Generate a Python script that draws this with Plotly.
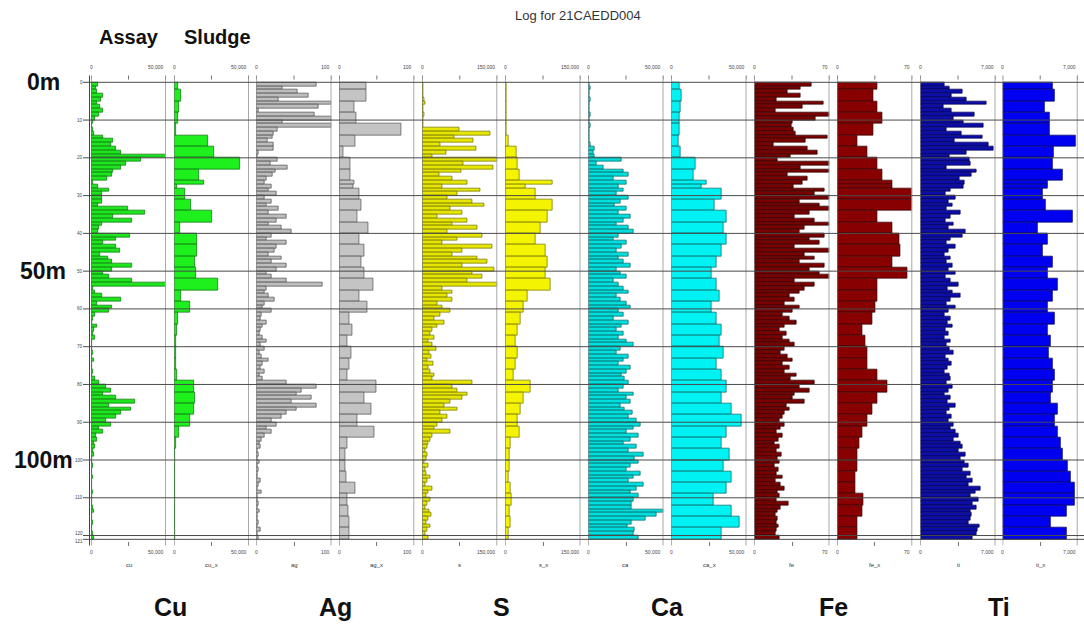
import plotly.graph_objects as go

# ---------------- data ----------------
elements = ["cu", "ag", "s", "ca", "fe", "ti"]
big_labels = ["Cu", "Ag", "S", "Ca", "Fe", "Ti"]
scale_max = [50000, 100, 150000, 50000, 70, 7000]
scale_text = ["50,000", "100", "150,000", "50,000", "70", "7,000"]

# assay samples: 1 m intervals from 0 m to 121 m
assay_from = list(range(121))

cu = [4700, 3300, 4000, 8000, 6700, 4000, 6000, 8000, 5300, 2700,
      1300, 700, 1300, 2000, 8000, 14700, 13300, 16700, 20000, 50000,
      33300, 23300, 20000, 14700, 14000, 10700, 1300, 4700, 12000, 7300,
      7300, 7300, 4700, 24700, 36000, 14700, 27300, 7300, 5300, 4700,
      26000, 16700, 8000, 16700, 19300, 6000, 11300, 14000, 27300, 14000,
      8000, 12000, 27300, 50000, 1300, 2700, 7300, 20000, 4000, 14000,
      12000, 2700, 1300, 700, 4000, 2000, 1300, 2700, 700, 700,
      700, 1300, 700, 2000, 700, 700, 1300, 700, 2700, 5300,
      10000, 13300, 8000, 16700, 29300, 12000, 26700, 20000, 16700, 10000,
      13300, 5300, 8000, 3300, 4000, 2000, 2700, 1300, 2000, 700,
      700, 1300, 700, 700, 1300, 700, 700, 700, 1300, 700,
      700, 700, 1300, 2000, 700, 700, 1300, 700, 700, 1300, 2000]

ag = [80, 35, 55, 69, 29, 100, 83, 3, 77, 100, 35, 100, 28, 23, 21, 15, 23, 23, 3, 1.3, 28, 19, 41, 25, 21,
      13, 11, 20, 16, 27, 11, 20, 13, 29, 16, 40,
      27, 16, 33, 47, 20, 13, 40, 27, 24, 16,
      33, 20, 40, 27, 13, 20, 40, 88, 13, 11,
      16, 24, 11, 8, 20, 7, 5, 13, 8, 5,
      4, 8, 13, 5, 11, 4, 7, 16, 8, 5, 11, 4, 8,
      40, 80, 60, 53, 73, 47, 80, 53, 40, 33, 20, 27,
      13, 20, 11, 7, 4, 5,
      1.3, 2.7, 1.3, 4, 1.3, 2.7, 1.3, 1.3, 5, 2.7, 1.3, 7, 1.3, 1.3, 2.7, 1.3, 4, 1.3, 1.3, 2.7, 1.3, 5, 1.3, 2.7]

s = [2000, 2000, 2000, 2000, 4000, 6000, 2000, 2000, 4000, 2000, 2000, 2000,
     74000, 136000, 64000, 102000, 36000, 108000, 48000, 20000, 150000, 82000, 142000, 78000, 34000,
     60000, 90000, 40000, 116000, 70000, 50000, 100000, 124000, 56000, 80000, 30000,
     90000, 60000, 110000, 50000, 120000, 70000, 40000, 140000, 80000, 60000,
     110000, 130000, 80000, 144000, 100000, 120000, 90000, 150000, 40000, 60000,
     50000, 60000, 30000, 40000, 56000, 36000, 24000, 44000, 30000, 20000,
     16000, 24000, 12000, 20000, 28000, 14000, 18000, 10000, 22000, 12000, 16000, 24000, 20000,
     100000, 60000, 70000, 90000, 80000, 56000, 44000, 70000, 36000, 50000, 40000, 30000,
     24000, 56000, 20000, 16000, 12000, 10000,
     6000, 10000, 8000, 4000, 12000, 6000, 8000, 16000, 10000, 6000, 20000, 12000,
     8000, 16000, 10000, 6000, 14000, 18000, 12000, 8000, 16000, 10000, 6000, 12000]

ca = [700, 1300, 700, 700, 1300, 700, 700, 700, 1300, 700, 700, 1300, 700, 700, 700, 700, 1300,
      4000, 3300, 4000,
      22000, 5300, 10000, 23300, 26700,
      16700, 25300, 20000, 23300, 18700, 26700, 21300, 17300, 25300, 20000, 28000,
      23300, 18700, 26700, 30000, 20000, 16700, 25300, 22000, 18700, 26700,
      20000, 23300, 28000, 18700, 21300, 25300, 16700, 20000, 23300, 26700,
      18700, 21300, 25300, 28000, 20000, 23300, 16700, 26700, 22000, 18700,
      23300, 20000, 25300, 30000, 21300, 18700, 26700, 23300, 20000, 28000, 25300, 22000, 24000,
      26700, 23300, 20000, 30000, 25300, 28000, 21300, 24000, 29300, 26700, 32000, 34700,
      30000, 25300, 33300, 28000, 23300, 32000, 26700, 36700, 30700,
      33300, 28000, 25300, 34700, 30000, 26700, 36700, 32000, 28000, 33300, 30000,
      28700, 28700, 50000, 45300, 38000, 28700, 26000, 30700, 30000, 33300]

fe = [53.2, 42.9, 30.8, 42.9, 20.5, 64.4, 44.8, 19.6, 70, 56.9, 35.5, 34.5, 36.4, 38.3, 68.1, 47.6, 17.7, 49.5, 58.8, 33.6, 21.5, 70, 42.9, 70, 30.8,
      49.5, 44.8, 36.4, 65.3, 56, 70, 42, 60.7, 70, 51.3, 37.3,
      56, 70, 46.7, 42, 65.3, 51.3, 60.7, 37.3, 70, 46.7,
      56, 42, 65.3, 51.3, 60.7, 70, 37.3, 56, 46.7, 42,
      32.7, 37.3, 28, 42, 35.5, 26.1, 32.7, 39.2, 28, 23.3,
      29.9, 26.1, 32.7, 37.3, 28, 24.3, 30.8, 35.5, 26.1, 32.7, 28, 39.2, 33.6,
      56, 42, 51.3, 37.3, 35.5, 46.7, 29.9, 32.7, 28, 26.1, 23.3, 28,
      24.3, 20.5, 26.1, 22.4, 18.7, 23.3, 20.5, 25.2, 21.5,
      23.3, 18.7, 22.4, 20.5, 26.1, 19.6, 24.3, 28, 21.5, 23.3, 20.5,
      31.7, 24.3, 21.5, 19.6, 21.5, 20.5, 22.4, 20.5, 19.6, 23.3]

ti = [2240, 2710, 3920, 2890, 4290, 6160, 2150, 2890, 5040, 3080, 4010, 5880, 2430, 3830, 5790, 3170, 6350, 6810, 4290, 2710, 4570, 4670, 2430, 5230, 4760,
      3640, 4110, 4010, 2800, 2330, 3270, 2610, 2990, 2430, 3730, 2800,
      2330, 3080, 2610, 4200, 3920, 2800, 2430, 3270, 2610, 2240,
      2800, 2430, 2990, 2610, 3270, 2330, 2800, 3550, 2520, 2990,
      3730, 2800, 2430, 3270, 2610, 2240, 2800, 2520, 2990, 2330,
      2610, 2240, 2800, 2430, 2710, 3080, 2330, 2610, 2890, 2520, 2240, 2710, 2800,
      2430, 2990, 2610, 2240, 2800, 2520, 3270, 2710, 2430, 2890, 2610, 3080,
      2800, 3270, 3550, 3080, 3730, 3920, 3550, 4200, 3730,
      4110, 4480, 3920, 4670, 4290, 4850, 4480, 5600, 5130, 4670, 5410,
      4850, 5230, 4670, 4760, 4670, 4480, 5510, 5320, 5230, 4850]

# sludge samples (mostly 3 m runs)
sludge_from = [0, 2, 5, 8, 11, 14, 17, 20, 23, 26, 27, 28, 31, 34, 37, 40, 43, 46, 49, 52, 55,
               58, 61, 64, 67, 70, 73, 76, 79, 82, 85, 88, 91, 94, 97, 100, 103, 106, 109, 112, 115, 118]
sludge_to = [2, 5, 8, 11, 14, 17, 20, 23, 26, 27, 28, 31, 34, 37, 40, 43, 46, 49, 52, 55, 58,
             61, 64, 67, 70, 73, 76, 79, 82, 85, 88, 91, 94, 97, 100, 103, 106, 109, 112, 115, 118, 121]

cu_x = [2700, 4700, 3300, 2700, 1300, 22700, 26700, 44000, 16700, 20000, 2000, 7300, 11300, 25300,
        4000, 15300, 15300, 14000, 14700, 29300, 4700, 10700, 2700, 2000, 1300, 1300, 1300, 2000,
        13300, 14000, 13300, 10700, 3300, 1300, 700, 700, 700, 700, 700, 700, 700, 700]
ag_x = [36, 36, 20, 23, 83, 21, 5, 15, 15, 20, 19, 27, 29, 24, 39, 27, 33, 29, 33, 45, 27,
        37, 13, 17, 11, 16, 13, 11, 49, 33, 43, 24, 47, 11, 8, 8, 9, 21, 11, 12, 13, 13]
s_x = [2000, 2000, 2000, 2000, 2000, 6000, 22000, 24000, 28000, 94000, 40000, 60000, 94000, 84000,
       70000, 60000, 80000, 84000, 80000, 90000, 44000, 36000, 30000, 24000, 20000, 24000, 20000, 16000,
       50000, 36000, 30000, 24000, 28000, 10000, 8000, 8000, 6000, 10000, 12000, 8000, 10000, 6000]
ca_x = [5300, 6700, 6000, 5300, 5300, 4700, 6000, 16000, 14700, 23300, 20000, 33300, 28700, 36700,
        34700, 36700, 33300, 30000, 26700, 30000, 32000, 26700, 30000, 33300, 32000, 34700, 30000, 33300,
        36700, 33300, 40000, 46700, 36700, 33300, 38700, 34700, 40000, 36700, 28000, 40000, 45300, 33300]
fe_x = [37.3, 33.6, 37.3, 42, 33.6, 18.7, 28, 37.3, 42, 51.3, 51.3, 70, 70, 37.3, 51.3, 57.9, 58.8,
        51.3, 65.3, 37.3, 37.3, 35.5, 32.7, 23.3, 26.1, 28, 28, 37.3, 46.7, 37.3, 32.7, 28, 23.3,
        20.5, 18.7, 18.7, 16.8, 16.8, 24.3, 23.3, 18.7, 18.7]
ti_x = [4670, 4850, 3920, 4390, 4390, 6810, 4760, 4670, 5600, 4200, 4200, 3730, 4010, 6530, 3270,
        4200, 3730, 4670, 4200, 5130, 4670, 4200, 4850, 4200, 4480, 4290, 4670, 4850, 4670, 4480,
        5130, 4850, 5130, 5410, 5600, 6070, 6350, 6720, 6720, 5970, 4480, 5970]

depth_ticks = [0, 10, 20, 30, 40, 50, 60, 70, 80, 90, 100, 110, 120, 121]
depth_big = ["0m", "50m", "100m"]
depth_big_at = [0, 50, 100]

assay_series = [cu, ag, s, ca, fe, ti]
sludge_series = [cu_x, ag_x, s_x, ca_x, fe_x, ti_x]
for a in assay_series:
    assert len(a) == len(assay_from), len(a)
for sl in sludge_series:
    assert len(sl) == len(sludge_from), len(sl)

# ---------------- styling ----------------
W, H = 1084, 624
FONT = "Liberation Sans"
assay_fill = ["#1ee61e", "#bdbdbd", "#e6e600", "#00dede", "#7a0000", "#0c0ca8"]
assay_line = ["#0b6e0b", "#4a4a4a", "#6e6e00", "#006060", "#2a0000", "#00004a"]
sludge_fill = ["#1ef01e", "#c4c4c4", "#f4f400", "#00f2f2", "#880000", "#0000f0"]
sludge_line = ["#0a6a0a", "#505050", "#6e6e00", "#006060", "#300000", "#00005a"]

panel_w = 75.0
panel_x0 = [91, 174, 256.5, 339.3, 422.3, 505.5, 588.5, 671.5, 754.5, 837.3, 920.5, 1002.7]
top_px, bot_px = 75.5, 545.5
y0_px, px_per_m = 82.3, 3.777


def py(p):
    return 1 - p / H


def txt(x, y, text, size, color="#111", xref="paper", yref="paper", xanchor="center", yshift=0):
    return dict(x=x, y=y, xref=xref, yref=yref, text=text, showarrow=False,
                xanchor=xanchor, yanchor="middle", yshift=yshift,
                font=dict(size=size, color=color, family=FONT))


fig = go.Figure()
shapes = []
annotations = []

a_mid = [d + 0.5 for d in assay_from]
s_mid = [(a + b) / 2 for a, b in zip(sludge_from, sludge_to)]
s_w = [b - a for a, b in zip(sludge_from, sludge_to)]

for k in range(6):
    for j, (vals, mids, widths, fill, line, name) in enumerate([
        (assay_series[k], a_mid, [1.0] * len(a_mid), assay_fill[k], assay_line[k], elements[k]),
        (sludge_series[k], s_mid, s_w, sludge_fill[k], sludge_line[k], elements[k] + "_x"),
    ]):
        i = 2 * k + j
        ax = "x" if i == 0 else f"x{i + 1}"
        fig.add_trace(go.Bar(
            x=vals, y=mids, width=widths, base=0, orientation="h",
            marker=dict(color=fill, line=dict(color=line, width=0.7)),
            xaxis=ax, yaxis="y", showlegend=False, name=name,
        ))
        x0 = panel_x0[i]
        key = "xaxis" if i == 0 else f"xaxis{i + 1}"
        m = scale_max[k]
        fig.layout[key] = dict(
            domain=[x0 / W, (x0 + panel_w) / W], range=[0, m], anchor="y",
            showgrid=False, zeroline=False, showline=False, automargin=False,
            tickmode="array", tickvals=[0, m / 2, m], showticklabels=False,
            ticks="inside", ticklen=4, tickcolor="#777", tickwidth=1,
            fixedrange=True,
        )
        # panel borders
        shapes.append(dict(type="line", xref=ax, yref="y domain", x0=0, x1=0, y0=0, y1=1,
                           line=dict(color="#6a6a6a", width=1), layer="above"))
        shapes.append(dict(type="line", xref=ax, yref="y domain", x0=m, x1=m, y0=0, y1=1,
                           line=dict(color="#a8a8a8", width=2), layer="above"))
        # top ticks
        for tv in [0, m / 2, m]:
            shapes.append(dict(type="line", xref=ax, yref="paper", x0=tv, x1=tv,
                               y0=py(top_px), y1=py(top_px + 4), line=dict(color="#777", width=1)))
        # scale labels top and bottom, variable name below
        for ypx in (67, 552):
            annotations.append(txt(0, py(ypx), "0", 5, "#444", xref=ax))
            annotations.append(txt(m, py(ypx), scale_text[k], 5, "#444", xref=ax, xanchor="right"))
        annotations.append(txt(m / 2, py(565), name, 6, "#333", xref=ax))
    # big element label
    cx = (panel_x0[2 * k] + panel_w + panel_x0[2 * k + 1]) / 2
    annotations.append(txt(cx / W, py(607), "<b>%s</b>" % big_labels[k], 25))

# depth grid lines and depth labels
for d in depth_ticks:
    shapes.append(dict(type="line", xref="paper", yref="y", x0=83 / W, x1=1, y0=d, y1=d,
                       line=dict(color="#4a4a4a", width=1), layer="above"))
shapes.append(dict(type="line", xref="paper", yref="y domain", x0=89.5 / W, x1=89.5 / W, y0=0, y1=1,
                   line=dict(color="#444", width=1), layer="above"))
n_lab = len(depth_ticks)
for idx, d in enumerate(depth_ticks):
    shift = 0
    if idx == n_lab - 2:
        shift = 2.5
    elif idx == n_lab - 1:
        shift = -2.5
    annotations.append(txt(84.5 / W, d, str(d), 4.5, "#444", yref="y", xanchor="right", yshift=shift))

for t, d in zip(depth_big, depth_big_at):
    annotations.append(txt(43 / W, d, "<b>%s</b>" % t, 23, yref="y"))

annotations.append(txt(578 / W, py(15), "Log for 21CAEDD004", 13, "#333"))
annotations.append(txt(129 / W, py(37), "<b>Assay</b>", 20))
annotations.append(txt(217 / W, py(37), "<b>Sludge</b>", 20))

r_top = (top_px - y0_px) / px_per_m
r_bot = (bot_px - y0_px) / px_per_m
fig.update_layout(
    width=W, height=H, margin=dict(l=0, r=0, t=0, b=0, autoexpand=False),
    paper_bgcolor="white", plot_bgcolor="white",
    barmode="overlay", bargap=0,
    yaxis=dict(domain=[py(bot_px), py(top_px)], range=[r_bot, r_top], anchor="free",
               position=89.5 / W, showgrid=False, zeroline=False, showline=False,
               automargin=False, showticklabels=False,
               tickmode="array", tickvals=depth_ticks, ticks="", fixedrange=True),
    shapes=shapes, annotations=annotations,
)

fig.write_html("out.html", config={"displayModeBar": False},
               post_script="document.body.style.margin='0px';document.body.style.overflow='hidden';")
